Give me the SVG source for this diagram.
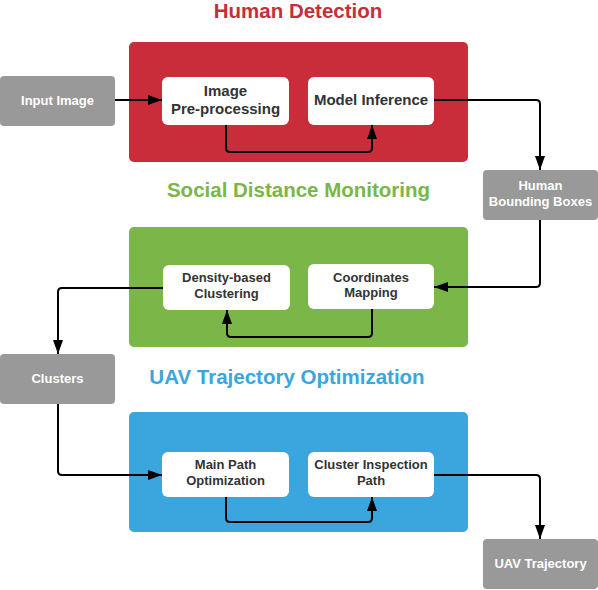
<svg xmlns="http://www.w3.org/2000/svg" width="598" height="590" viewBox="0 0 598 590">
<defs>
<marker id="ah" markerWidth="14" markerHeight="10" refX="14" refY="5" orient="auto" markerUnits="userSpaceOnUse">
<path d="M0,0 L14,5 L0,10 Z" fill="#000"/>
</marker>
<style>
.title{font-family:"Liberation Sans",Arial,sans-serif;font-weight:bold;font-size:20.5px;text-anchor:middle}
.t{font-family:"Liberation Sans",Arial,sans-serif;font-weight:bold;font-size:13px;text-anchor:middle;fill:#333}
.tl{font-size:15px}
.g{font-family:"Liberation Sans",Arial,sans-serif;font-weight:bold;font-size:13px;text-anchor:middle;fill:#fff}
.gray{fill:#999999}
.white{fill:#fff}
.c{fill:none;stroke:#000;stroke-width:2;stroke-linejoin:round;marker-end:url(#ah)}
</style>
</defs>
<rect width="598" height="590" fill="#fff"/>

<g id="containers">
<rect x="129" y="42" width="339" height="120" rx="5" fill="#c92d39"/>
<rect x="129" y="227" width="339" height="120" rx="5" fill="#7ab648"/>
<rect x="129" y="412" width="339" height="120" rx="5" fill="#3aa6dd"/>
</g>

<g id="titles">
<text class="title" x="298" y="18" fill="#c92d39">Human Detection</text>
<text class="title" x="298.5" y="197" fill="#7ab648">Social Distance Monitoring</text>
<text class="title" x="287" y="383.5" fill="#3aa6dd">UAV Trajectory Optimization</text>
</g>

<g id="connectors">
<path class="c" d="M115,100 L162,100"/>
<path class="c" d="M226,125 L226,148 Q226,152 230,152 L368,152 Q372,152 372,148 L372,125"/>
<path class="c" d="M434,100 L536,100 Q540,100 540,104 L540,170"/>
<path class="c" d="M540,220 L540,283 Q540,287 536,287 L434,287"/>
<path class="c" d="M372,309 L372,333 Q372,337 368,337 L231,337 Q227,337 227,333 L227,310"/>
<path class="c" d="M163,288 L62,288 Q58,288 58,292 L58,354"/>
<path class="c" d="M58,404 L58,471 Q58,475 62,475 L162,475"/>
<path class="c" d="M226,497 L226,518 Q226,522 230,522 L368,522 Q372,522 372,518 L372,497"/>
<path class="c" d="M434,475 L536,475 Q540,475 540,479 L540,539"/>
</g>

<g id="input-image">
<rect class="gray" x="0" y="76" width="115" height="50" rx="4"/>
<text class="g" x="57.5" y="105">Input Image</text>
</g>
<g id="image-preprocessing">
<rect class="white" x="162" y="77" width="127" height="48" rx="6"/>
<text class="t tl" x="225.5" y="95.5">Image</text>
<text class="t tl" x="225.5" y="113.5">Pre-processing</text>
</g>
<g id="model-inference">
<rect class="white" x="308" y="77" width="126" height="48" rx="6"/>
<text class="t tl" x="371" y="104.5">Model Inference</text>
</g>
<g id="human-bounding-boxes">
<rect class="gray" x="483" y="170" width="115" height="50" rx="4"/>
<text class="g" x="540.5" y="189.5">Human</text>
<text class="g" x="540.5" y="205.5">Bounding Boxes</text>
</g>
<g id="density-clustering">
<rect class="white" x="163" y="265" width="127" height="45" rx="6"/>
<text class="t" x="226.5" y="282">Density-based</text>
<text class="t" x="226.5" y="297.5">Clustering</text>
</g>
<g id="coordinates-mapping">
<rect class="white" x="308" y="264" width="126" height="45" rx="6"/>
<text class="t" x="371" y="281.5">Coordinates</text>
<text class="t" x="371" y="296.5">Mapping</text>
</g>
<g id="clusters">
<rect class="gray" x="0" y="354" width="115" height="50" rx="4"/>
<text class="g" x="57.5" y="382.5">Clusters</text>
</g>
<g id="main-path">
<rect class="white" x="162" y="452" width="127" height="45" rx="6"/>
<text class="t" x="225.5" y="469">Main Path</text>
<text class="t" x="225.5" y="484.5">Optimization</text>
</g>
<g id="cluster-inspection">
<rect class="white" x="308" y="452" width="126" height="45" rx="6"/>
<text class="t" x="371" y="469">Cluster Inspection</text>
<text class="t" x="371" y="484.5">Path</text>
</g>
<g id="uav-trajectory">
<rect class="gray" x="483" y="539" width="115" height="50" rx="4"/>
<text class="g" x="540.5" y="567.5">UAV Trajectory</text>
</g>
</svg>
